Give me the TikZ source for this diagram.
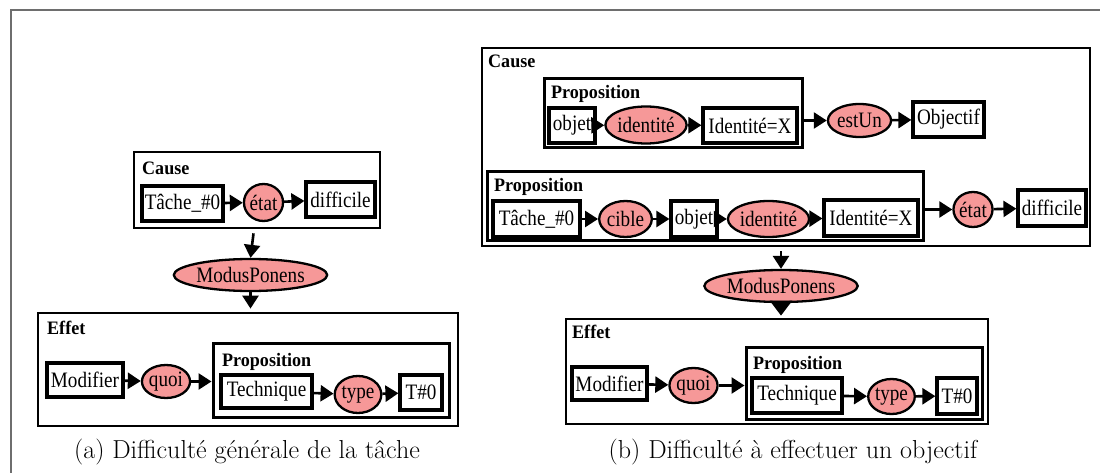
\documentclass[tikz,border=0pt]{standalone}
\usepackage{fontspec}
\newfontfamily\tnr[FakeStretch=0.87]{Liberation Serif}
\newfontfamily\tnrb[FakeStretch=0.95]{Liberation Serif Bold}
\usetikzlibrary{arrows.meta,shapes.geometric}
\definecolor{relfill}{RGB}{246,152,152}
\definecolor{framegray}{RGB}{110,110,110}
\begin{document}
\begin{tikzpicture}[x=1pt,y=-1pt,
  concept/.style={draw, line width=3.2pt, fill=white, inner sep=0pt, font=\tnr\fontsize{22}{25}\selectfont},
  relation/.style={ellipse, draw, line width=2.3pt, fill=relfill, inner sep=0pt, font=\tnr\fontsize{22}{25}\selectfont},
  group/.style={draw, line width=2.8pt, inner sep=0pt},
  grouplabel/.style={anchor=base west, inner sep=0pt, font=\tnrb\fontsize{19}{22}\selectfont},
  arr/.style={line width=2.6pt, -{Triangle[length=13pt,width=16pt]}},
  bigarr/.style={line width=2.6pt, -{Triangle[length=15pt,width=22pt]}},
  caption/.style={anchor=base, inner sep=0pt, font=\fontsize{26}{30}\selectfont},
]
\useasboundingbox (0,0) rectangle (1100,473);
% outer frame
\draw[framegray, line width=2pt] (10.5,473) -- (10.5,10) -- (1100,10);

% ---------- panel (a) ----------
\node[group, minimum width=246pt, minimum height=76pt] (causeA) at (257,190) {};
\node[grouplabel] (causeAl) at (142,175) {Cause};
\node[concept, minimum width=81pt, minimum height=35pt] (tacheA) at (182.5,203.5) {Tâche\_\#0};
\node[relation, minimum width=37pt, minimum height=37pt] (etatA) at (263.5,202.5) {état};
\node[concept, minimum width=69pt, minimum height=35pt] (diffA) at (340.5,199.5) {difficile};
\node[relation, minimum width=119pt, minimum height=32pt] (mpA) at (250.5,275) {ModusPonens};
\node[group, minimum width=420pt, minimum height=113pt] (effetA) at (248,369.5) {};
\node[grouplabel] (effetAl) at (47,334) {Effet};
\node[concept, minimum width=76pt, minimum height=34pt] (modA) at (85,380) {Modifier};
\node[relation, minimum width=42pt, minimum height=33pt] (quoiA) at (166,381.5) {quoi};
\node[group, line width=3pt, minimum width=236pt, minimum height=74pt] (propA) at (331,380) {};
\node[grouplabel] (propAl) at (222,366) {Proposition};
\node[concept, minimum width=91pt, minimum height=33pt] (techA) at (266.5,391.5) {Technique};
\node[relation, minimum width=43pt, minimum height=37pt] (typeA) at (358,394.5) {type};
\node[concept, minimum width=42pt, minimum height=35pt] (t0A) at (421,392.5) {T\#0};

\draw[arr] (tacheA) -- (etatA);
\draw[arr] (etatA) -- (diffA);
\draw[arr, shorten <=4pt] ([xshift=-3pt]causeA.south) -- (mpA.north);
\draw[arr, shorten >=3pt] (mpA.south) -- (mpA.south |- effetA.north);
\draw[arr] (modA) -- (quoiA);
\draw[arr] (quoiA.east) -- (quoiA.east -| propA.west);
\draw[arr] (techA) -- (typeA);
\draw[arr] (typeA) -- (t0A);

\node[caption] (capA) at (247,458) {(a) Difficulté générale de la tâche};

% ---------- panel (b) ----------
\node[group, minimum width=608pt, minimum height=198pt] (causeB) at (786,147) {};
\node[grouplabel] (causeBl) at (488,68) {Cause};
\node[group, line width=3pt, minimum width=258pt, minimum height=69pt] (prop1) at (673,113.5) {};
\node[grouplabel] (prop1l) at (551,99) {Proposition};
\node[concept, minimum width=46pt, minimum height=35pt] (objet1) at (572,125.5) {objet};
\node[relation, minimum width=64pt, minimum height=37pt] (ident1) at (646,125) {identité};
\node[concept, minimum width=94pt, minimum height=35pt] (idX1) at (750,125.5) {Identité=X};
\node[relation, minimum width=53pt, minimum height=33pt] (estUn) at (859.5,120.5) {estUn};
\node[concept, minimum width=71pt, minimum height=35pt] (objectif) at (948.5,119.5) {Objectif};

\node[group, line width=3pt, minimum width=436pt, minimum height=68pt] (prop2) at (705,206) {};
\node[grouplabel] (prop2l) at (494,192) {Proposition};
\node[concept, minimum width=87pt, minimum height=36pt] (tache2) at (536.5,219) {Tâche\_\#0};
\node[relation, minimum width=43pt, minimum height=36pt] (cible) at (625.5,219) {cible};
\node[concept, minimum width=46pt, minimum height=36pt] (objet2) at (694,219) {objet};
\node[relation, minimum width=63pt, minimum height=36pt] (ident2) at (768.5,219) {identité};
\node[concept, minimum width=94pt, minimum height=36pt] (idX2) at (871,218) {Identité=X};
\node[relation, minimum width=36pt, minimum height=35pt] (etatB) at (973,209.5) {état};
\node[concept, minimum width=68pt, minimum height=36pt] (diffB) at (1052,208) {difficile};

\node[relation, minimum width=122pt, minimum height=32pt] (mpB) at (781,286) {ModusPonens};

\node[group, minimum width=422pt, minimum height=105pt] (effetB) at (777,371.5) {};
\node[grouplabel] (effetBl) at (572,338) {Effet};
\node[concept, minimum width=75pt, minimum height=33pt] (modB) at (609.5,383.5) {Modifier};
\node[relation, minimum width=41pt, minimum height=35pt] (quoiB) at (693.5,385.5) {quoi};
\node[group, line width=3pt, minimum width=236pt, minimum height=72pt] (propB) at (864,383) {};
\node[grouplabel] (propBl) at (753,369) {Proposition};
\node[concept, minimum width=90pt, minimum height=35pt] (techB) at (797,395.5) {Technique};
\node[relation, minimum width=41pt, minimum height=35pt] (typeB) at (891.5,396.5) {type};
\node[concept, minimum width=40pt, minimum height=36pt] (t0B) at (957,396) {T\#0};

\draw[arr] (objet1) -- (ident1);
\draw[arr] (ident1) -- (idX1);
\draw[arr] (prop1.east |- estUn.west) -- (estUn.west);
\draw[arr] (estUn) -- (objectif);
\draw[arr] (tache2) -- (cible);
\draw[arr] (cible) -- (objet2);
\draw[arr] (objet2) -- (ident2);
\draw[arr] (ident2) -- (idX2);
\draw[arr] (prop2.east |- etatB.west) -- (etatB.west);
\draw[arr] (etatB) -- (diffB);
\draw[arr, shorten <=4pt] (mpB.north |- causeB.south) -- (mpB.north);
\draw[bigarr, shorten >=2pt] (mpB.south) -- (mpB.south |- effetB.north);
\draw[arr] (modB) -- (quoiB);
\draw[arr] (quoiB.east) -- (quoiB.east -| propB.west);
\draw[arr] (techB) -- (typeB);
\draw[arr] (typeB) -- (t0B);

\node[caption] (capB) at (793,458) {(b) Difficulté à effectuer un objectif};
\end{tikzpicture}
\end{document}
